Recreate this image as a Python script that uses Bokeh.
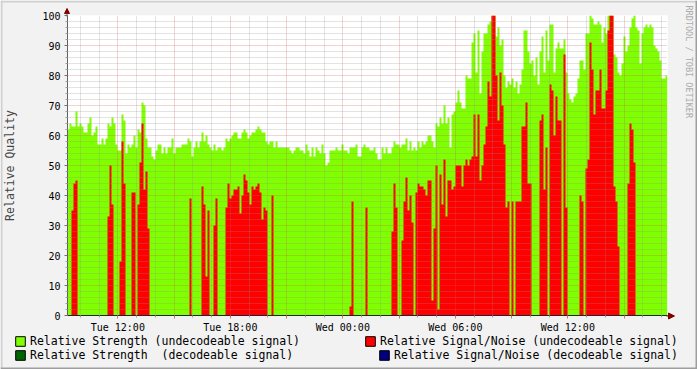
from math import pi
from bokeh.plotting import figure
from bokeh.models import (Range1d, FixedTicker, Legend, LegendItem, Label, Arrow,
                          NormalHead, BoxAnnotation)
from bokeh.embed import file_html
from bokeh.resources import INLINE

# ---------------- data ----------------
# time axis in hours since Tue 00:00; one sample every 6.4 minutes
START_HOUR = 9 + 19 / 60
STEP_HOURS = 6.4 / 60

strength_undecodeable = [
    62, 64, 63, 63, 68, 63, 64, 63, 61, 61,
    64, 66, 60, 61, 63, 57, 57, 59, 57, 59,
    64, 63, 66, 64, 57, 55, 55, 67, 65, 54,
    57, 56, 57, 60, 56, 62, 61, 71, 70, 59,
    56, 56, 53, 52, 55, 57, 57, 54, 56, 54,
    56, 56, 59, 54, 56, 56, 56, 57, 57, 57,
    59, 58, 53, 56, 58, 56, 58, 61, 58, 60,
    57, 56, 55, 57, 55, 56, 56, 55, 56, 59,
    58, 59, 60, 61, 61, 59, 59, 61, 62, 61,
    59, 60, 61, 61, 62, 63, 62, 61, 61, 58,
    57, 58, 58, 56, 58, 56, 56, 56, 56, 56,
    56, 55, 54, 55, 56, 56, 55, 55, 54, 57,
    55, 53, 56, 53, 56, 55, 54, 57, 54, 50,
    51, 55, 55, 55, 56, 55, 55, 57, 55, 55,
    54, 56, 56, 56, 57, 53, 53, 56, 57, 56,
    56, 55, 55, 56, 54, 52, 52, 56, 54, 56,
    54, 54, 56, 58, 57, 57, 56, 57, 57, 59,
    55, 58, 55, 56, 55, 58, 56, 58, 57, 58,
    60, 60, 58, 56, 64, 63, 66, 64, 70, 64,
    66, 56, 67, 68, 71, 75, 71, 69, 69, 80,
    79, 79, 91, 94, 81, 95, 74, 88, 94, 94,
    97, 98, 100, 100, 93, 96, 90, 92, 80, 76,
    78, 77, 79, 76, 78, 74, 77, 82, 95, 95,
    88, 84, 85, 80, 86, 77, 88, 93, 81, 95,
    85, 97, 97, 81, 89, 91, 89, 89, 92, 81,
    74, 72, 71, 73, 74, 79, 85, 85, 82, 94,
    94, 100, 99, 97, 97, 98, 97, 91, 96, 94,
    100, 100, 100, 87, 86, 81, 80, 84, 93, 88,
    90, 96, 99, 100, 96, 95, 84, 94, 96, 97,
    96, 97, 96, 90, 89, 88, 85, 79, 79, 80,
]

snr_undecodeable = [
    0, 0, 35, 44, 45, 0, 0, 0, 0, 0,
    0, 0, 0, 0, 0, 0, 0, 0, 0, 0,
    33, 50, 37, 0, 0, 0, 18, 58, 44, 0,
    0, 0, 41, 41, 0, 37, 51, 64, 42, 48,
    29, 0, 0, 0, 0, 0, 0, 0, 0, 0,
    0, 0, 0, 0, 0, 0, 0, 0, 0, 0,
    0, 39, 0, 0, 0, 0, 0, 43, 37, 13,
    35, 0, 0, 30, 39, 0, 0, 0, 0, 36,
    44, 39, 40, 42, 42, 43, 34, 40, 47, 45,
    41, 37, 43, 42, 43, 44, 41, 32, 36, 35,
    0, 0, 40, 0, 0, 0, 0, 0, 0, 0,
    0, 0, 0, 0, 0, 0, 0, 0, 0, 0,
    0, 0, 0, 0, 0, 0, 0, 0, 0, 0,
    0, 0, 0, 0, 0, 0, 0, 0, 0, 0,
    0, 3, 38, 0, 0, 0, 0, 0, 0, 36,
    0, 0, 0, 0, 0, 0, 0, 0, 0, 0,
    0, 0, 28, 44, 36, 0, 0, 25, 38, 46,
    35, 40, 31, 0, 41, 44, 43, 43, 42, 40,
    45, 45, 5, 29, 50, 2, 47, 37, 52, 33,
    45, 45, 42, 43, 50, 50, 50, 43, 50, 52,
    50, 52, 53, 67, 53, 67, 45, 50, 57, 63,
    78, 73, 100, 100, 80, 65, 81, 70, 57, 36,
    38, 0, 38, 0, 38, 38, 38, 63, 63, 71,
    44, 44, 0, 0, 0, 0, 65, 67, 42, 56,
    0, 77, 75, 60, 73, 65, 65, 0, 87, 36,
    0, 0, 0, 0, 0, 0, 40, 38, 0, 49,
    52, 91, 82, 67, 75, 75, 82, 69, 69, 75,
    95, 100, 100, 43, 38, 23, 0, 0, 0, 0,
    44, 64, 62, 51, 0, 0, 0, 0, 0, 0,
    0, 0, 0, 0, 0, 0, 0, 0, 0, 0,
]

# decodeable-signal series: no visible samples in the picture
strength_decodeable = []
snr_decodeable = []

series_labels = [
    "Relative Strength (undecodeable signal)",
    "Relative Signal/Noise (undecodeable signal)",
    "Relative Strength  (decodeable signal)",
    "Relative Signal/Noise (decodeable signal)",
]
series_colors = ["#7FFF00", "#FF0000", "#006400", "#000080"]

major_hours = [12, 15, 18, 21, 24, 27, 30, 33, 36, 39]
label_hours = [12, 18, 24, 30, 36]
tick_labels = ["Tue 12:00", "Tue 18:00", "Wed 00:00", "Wed 06:00", "Wed 12:00"]
value_ticks = [0, 10, 20, 30, 40, 50, 60, 70, 80, 90, 100]

W, H = 697, 369

# ---------------- main figure ----------------
n = len(strength_undecodeable)
x_end = START_HOUR + n * STEP_HOURS

p = figure(width=W, height=H, output_backend="svg", toolbar_location=None, tools="",
           x_range=Range1d(START_HOUR, x_end), y_range=Range1d(0, 100),
           min_border_left=67, min_border_right=30, min_border_top=15, min_border_bottom=54,
           background_fill_color="white", border_fill_color="#F2F2F2",
           outline_line_color=None)

xs = [START_HOUR + i * STEP_HOURS for i in range(n + 1)]
p.varea_step(x=xs, y1=0, y2=strength_undecodeable + strength_undecodeable[-1:],
             step_mode="after", fill_color=series_colors[0])
p.varea_step(x=xs, y1=0, y2=snr_undecodeable + snr_undecodeable[-1:],
             step_mode="after", fill_color=series_colors[1])
if strength_decodeable:
    p.varea_step(x=xs[:len(strength_decodeable) + 1], y1=0,
                 y2=strength_decodeable + strength_decodeable[-1:],
                 step_mode="after", fill_color=series_colors[2])
if snr_decodeable:
    p.varea_step(x=xs[:len(snr_decodeable) + 1], y1=0,
                 y2=snr_decodeable + snr_decodeable[-1:],
                 step_mode="after", fill_color=series_colors[3])

minor_hours = [h for h in range(10, 42) if h % 3]
xt = FixedTicker(ticks=major_hours, minor_ticks=minor_hours)
yt = FixedTicker(ticks=value_ticks, minor_ticks=[v for v in range(2, 100, 2) if v % 10])
p.xaxis.ticker = xt
p.xgrid.ticker = xt
p.yaxis.ticker = yt
p.ygrid.ticker = yt
p.xaxis.major_label_overrides = {
    h: (tick_labels[label_hours.index(h)] if h in label_hours else "") for h in major_hours}

for g in list(p.xgrid) + list(p.ygrid):
    g.grid_line_color = "#DE4F4F"
    g.grid_line_alpha = 0.5
    g.grid_line_dash = "1 1"
    g.minor_grid_line_color = "#8F8F8F"
    g.minor_grid_line_alpha = 0.5
    g.minor_grid_line_dash = "1 1"
    g.level = "overlay"

for ax in list(p.xaxis) + list(p.yaxis):
    ax.major_label_text_font = "DejaVu Sans Mono"
    ax.major_label_text_font_size = "10px"
    ax.major_label_text_color = "black"
    ax.major_tick_in = 0
    ax.minor_tick_in = 0
    ax.major_tick_out = 3
    ax.minor_tick_out = 2
    ax.minor_tick_line_color = "#A0A0A0"

xa = p.xaxis[0]
xa.axis_line_color = "#202040"
xa.major_tick_line_color = "#D07070"
xa.major_label_standoff = 3

ya = p.yaxis[0]
ya.axis_line_color = "#606060"
ya.major_tick_line_color = "#707070"
ya.major_label_standoff = 4
ya.axis_label = "Relative Quality"
ya.axis_label_text_font = "DejaVu Sans Mono"
ya.axis_label_text_font_size = "11.5px"
ya.axis_label_text_font_style = "normal"
ya.axis_label_standoff = 22

# ---------------- transparent overlay (pixel coordinates), separate root ----------------
ov = figure(width=W, height=H, output_backend="svg", toolbar_location=None, tools="",
            x_range=Range1d(0, W), y_range=Range1d(H, 0), min_border=0,
            min_border_left=0, min_border_right=0, min_border_top=0, min_border_bottom=0,
            x_axis_location=None, y_axis_location=None,
            background_fill_color=None, border_fill_color=None, outline_line_color=None,
            styles={"position": "absolute", "left": "0px", "top": "0px"})
ov.grid.visible = False

# legend keys (outlined squares); each key glyph sits outside the visible range
keys = [ov.quad(left=[-30], right=[-20], top=[-30], bottom=[-20], fill_color=c,
                line_color="black", line_width=1) for c in series_colors]
legend_pos = [(14, 21), (364, 21), (14, 7), (378, 7)]
for lab, r, loc in zip(series_labels, keys, legend_pos):
    lg = Legend(items=[LegendItem(label=lab, renderers=[r])], location=loc,
                orientation="vertical", padding=0, margin=0, spacing=0,
                glyph_width=12, glyph_height=12, label_standoff=4,
                label_height=12, label_width=10,
                label_text_font="DejaVu Sans Mono", label_text_font_size="11.5px",
                label_text_color="black",
                border_line_alpha=0, background_fill_alpha=0)
    ov.add_layout(lg, "center")

# axis arrows
ov.add_layout(Arrow(x_start=666, y_start=315.5, x_end=674, y_end=315.5,
                    line_color="#202040", line_width=1,
                    end=NormalHead(size=6, fill_color="#800000", line_color="#800000")))
ov.add_layout(Arrow(x_start=66.5, y_start=16, x_end=66.5, y_end=8,
                    line_color="#606060", line_width=1,
                    end=NormalHead(size=5, fill_color="#800000", line_color="#800000")))

# 3D frame around the image
for (l, r, t, b, c) in [(0, W, 0, 2, "#CFCFCF"), (0, 2, 0, H, "#CFCFCF"),
                        (0, W, H - 2, H, "#9E9E9E"), (W - 2, W, 0, H, "#9E9E9E")]:
    ov.add_layout(BoxAnnotation(left=l, right=r, top=t, bottom=b,
                                fill_color=c, fill_alpha=1, line_alpha=0))

# watermark
ov.add_layout(Label(x=688, y=5, angle=-pi / 2,
                    text="RRDTOOL / TOBI OETIKER", text_font="DejaVu Sans Mono",
                    text_font_size="8.5px", text_color="#ABABAB",
                    text_align="left", text_baseline="middle"))

open("out.html", "w").write(file_html([p, ov], INLINE))
